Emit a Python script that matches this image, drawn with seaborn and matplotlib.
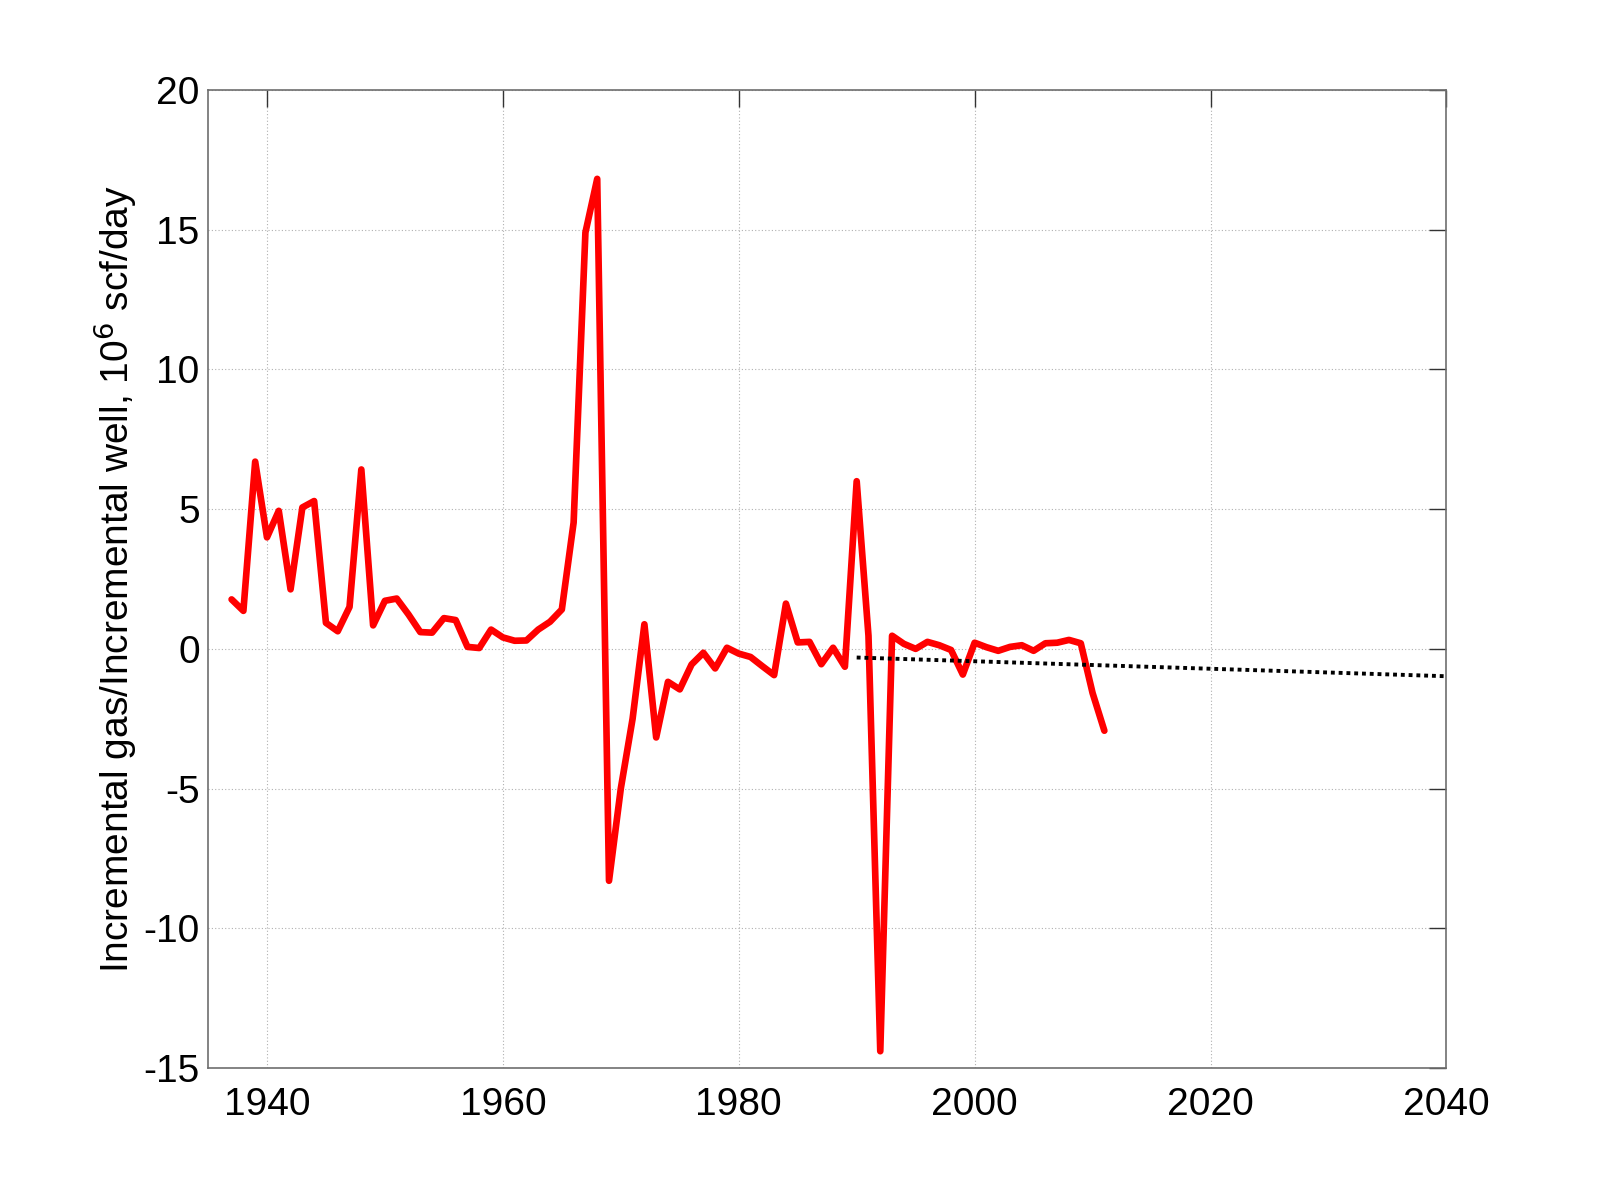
import numpy as np
import pandas as pd
import seaborn as sns
from matplotlib import pyplot as plt

# incremental gas per incremental well
years = list(range(1937, 2012))
gas_per_well = [
    1.77, 1.36, 6.70, 3.99, 4.94, 2.13, 5.06, 5.29, 0.93, 0.63,   # 1937-1946
    1.50, 6.42, 0.84, 1.72, 1.80, 1.23, 0.60, 0.58, 1.10, 1.03,   # 1947-1956
    0.07, 0.03, 0.69, 0.41, 0.29, 0.30, 0.69, 0.97, 1.41, 4.52,   # 1957-1966
    14.9, 16.82, -8.3, -5.0, -2.5, 0.88, -3.17, -1.18, -1.45, -0.56,  # 1967-1976
    -0.14, -0.70, 0.04, -0.17, -0.29, -0.62, -0.94, 1.62, 0.23, 0.25,  # 1977-1986
    -0.55, 0.04, -0.64, 6.0, 0.47, -14.4, 0.47, 0.18, 0.0, 0.25,   # 1987-1996
    0.13, -0.04, -0.92, 0.22, 0.06, -0.07, 0.07, 0.13, -0.07, 0.20,  # 1997-2006
    0.22, 0.32, 0.20, -1.58, -2.93,                               # 2007-2011
]

# linear trend (end points only)
trend_years = [1990, 2040]
trend_vals = [-0.31, -0.98]

df = pd.DataFrame({"year": years, "gas": gas_per_well})
trend = pd.DataFrame({"year": trend_years, "gas": trend_vals})

sns.set_style("white")
plt.rcParams["font.family"] = ["Liberation Sans", "DejaVu Sans"]
plt.rcParams["font.size"] = 28
plt.rcParams["axes.unicode_minus"] = False
plt.rcParams["text.color"] = "black"
plt.rcParams["axes.labelcolor"] = "black"
plt.rcParams["xtick.color"] = "black"
plt.rcParams["ytick.color"] = "black"

fig = plt.figure(figsize=(16, 12), dpi=100)
ax = fig.add_axes([0.130, 0.110, 0.774, 0.815])

sns.lineplot(data=df, x="year", y="gas", color="#ff0000", linewidth=4.8, ax=ax)
sns.lineplot(data=trend, x="year", y="gas", color="black", linewidth=2.8,
             linestyle=(0, (1, 1)), ax=ax)

ax.set_xlim(1935, 2040)
ax.set_ylim(-15, 20)
ax.set_xticks(np.arange(1940, 2041, 20))
ax.set_yticks(np.arange(-15, 21, 5))

# matlab-ish look: dotted grid, box, inward ticks on every side
ax.grid(True, linestyle=(0, (1, 2)), color="#b0b0b0", linewidth=0.8)
for s in ax.spines.values():
    s.set_visible(True)
    s.set_color("#6e6e6e")
    s.set_linewidth(1.2)
ax.tick_params(direction="in", length=12, width=1.0, color="#333333",
               top=True, right=True, labelsize=28)
ax.tick_params(axis="x", pad=14)
ax.tick_params(axis="y", pad=6)

ax.set_xlabel("")
ax.set_ylabel(r"Incremental gas/Incremental well, 10$^6$ scf/day", fontsize=28, labelpad=3)

plt.savefig("out.png", dpi=100)
